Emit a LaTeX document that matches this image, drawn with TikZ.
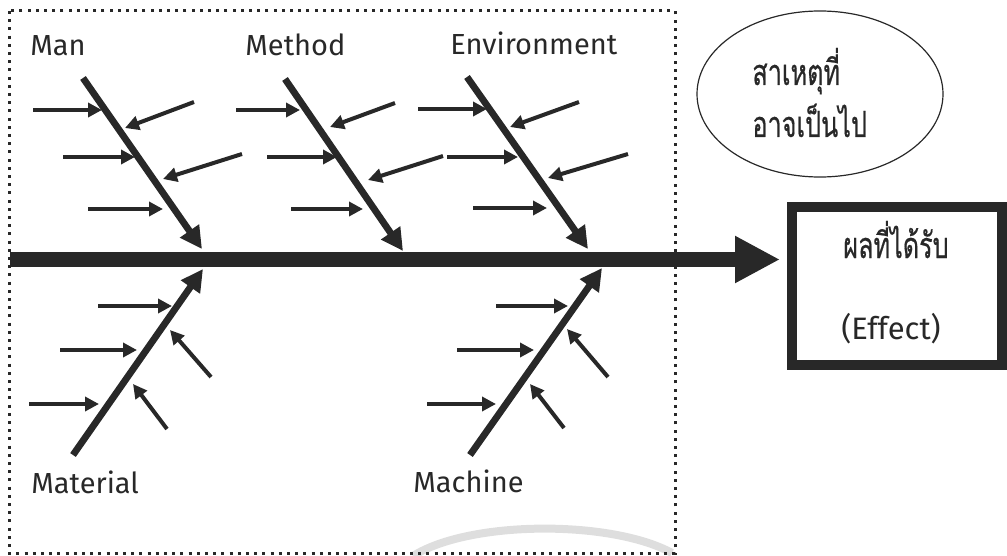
\documentclass[tikz,border=0pt]{standalone}
\usepackage{fontspec}
\setmainfont{Fira Sans}
\newfontfamily\thaifont[Script=Thai,FakeBold=0.6]{Loma}
\usetikzlibrary{arrows.meta,shapes.geometric}

\definecolor{ink}{RGB}{40,40,40}

% Thai text set tall and condensed
\newcommand{\thaitext}[1]{\scalebox{0.7}[1]{#1}}

\begin{document}
\begin{tikzpicture}[x=0.5pt,y=-0.5pt,
  spine/.style={line width=7.5pt, draw=ink, -{Triangle[length=22.5pt,width=22pt]}},
  bone/.style={line width=3.4pt, draw=ink, -{Triangle[length=11pt,width=11pt]}},
  twig/.style={line width=2pt, draw=ink, -{Triangle[length=7pt,width=7pt]}},
  catlabel/.style={font=\fontsize{14.5}{17}\selectfont, text=ink, inner sep=0pt, anchor=base west},
  thailabel/.style={font=\thaifont\fontsize{18}{21}\selectfont, text=ink, inner sep=0pt},
  framebox/.style={draw=ink, line width=1.5pt, dash pattern=on 1.5pt off 2.6pt},
]
\useasboundingbox (0,0) rectangle (1007,556);

% faint watermark arc at the bottom
\draw[black!13, line width=4pt] (413,556) .. controls (470,520) and (612,520) .. (672,553);

% dotted frame round the cause area
\draw[framebox] (9,11) rectangle (675,553);

% effect box and cause ellipse
\node[draw=ink, line width=5pt, minimum width=105pt, minimum height=79pt, inner sep=0pt] (effect) at (897,286) {};
\node[thailabel, anchor=base] (effTh) at (896,258) {\thaitext{ผลที่ได้รับ}};
\node[catlabel, anchor=base, font=\fontsize{15.5}{18}\selectfont] (effEn) at (891,339) {(Effect)};

\node[draw=ink, line width=0.6pt, ellipse, minimum width=123pt, minimum height=83pt, inner sep=0pt] (cause) at (820,94) {};
\node[thailabel, anchor=base west] (causeA) at (752,85) {\thaitext{สาเหตุที่}};
\node[thailabel, anchor=base west] (causeB) at (752,137) {\thaitext{อาจเป็นไป}};

% main spine
\coordinate (head) at (10,259.5);
\draw[spine] (head) -- ([xshift=-3.5pt]effect.west |- head);

% category labels
\node[catlabel] (man) at (30,56) {Man};
\node[catlabel] (method) at (245,56) {Method};
\node[catlabel] (env) at (450,55) {Environment};
\node[catlabel] (material) at (31,493) {Material};
\node[catlabel] (machine) at (413,492) {Machine};

% main bones
\coordinate (manS) at (83,78);    \coordinate (manE) at (202,249);
\coordinate (metS) at (285,79);   \coordinate (metE) at (403,251);
\coordinate (envS) at (467,77);   \coordinate (envE) at (588,249);
\coordinate (matS) at (73,455);   \coordinate (matE) at (203,269);
\coordinate (macS) at (470,455);  \coordinate (macE) at (602,268);
\foreach \b in {man,met,env,mat,mac}
  \draw[bone] (\b S) -- (\b E);

% sub-cause arrows on the upper bones
\foreach \i/\ax/\ay/\bx/\by in {
  1/33/110/102/110, 2/63/157/135/157, 3/88/209/163/209,
  4/194/102/125/128, 5/242/154/163/179,
  6/236/110/300/110, 7/267/157/337/157, 8/291/209/363/209,
  9/395/103/330/127, 10/443/156/368/180,
  11/418/109/487/109, 12/447/157/518/157, 13/473/208/547/208,
  14/579/102/510/127, 15/628/154/548/178}
  \draw[twig] (\ax,\ay) coordinate (tw\i s) -- (\bx,\by) coordinate (tw\i e);

% sub-cause arrows on the lower bones
\foreach \i/\ax/\ay/\bx/\by in {
  16/98/306/172/306, 17/60/350/137/350, 18/29/404/99/404,
  19/211/377/170/330, 20/167/429/133/384,
  21/496/306/568/306, 22/457/350/534/350, 23/427/404/496/404,
  24/608/377/567/329, 25/564/428/530/384}
  \draw[twig] (\ax,\ay) coordinate (tw\i s) -- (\bx,\by) coordinate (tw\i e);
\end{tikzpicture}
\end{document}
